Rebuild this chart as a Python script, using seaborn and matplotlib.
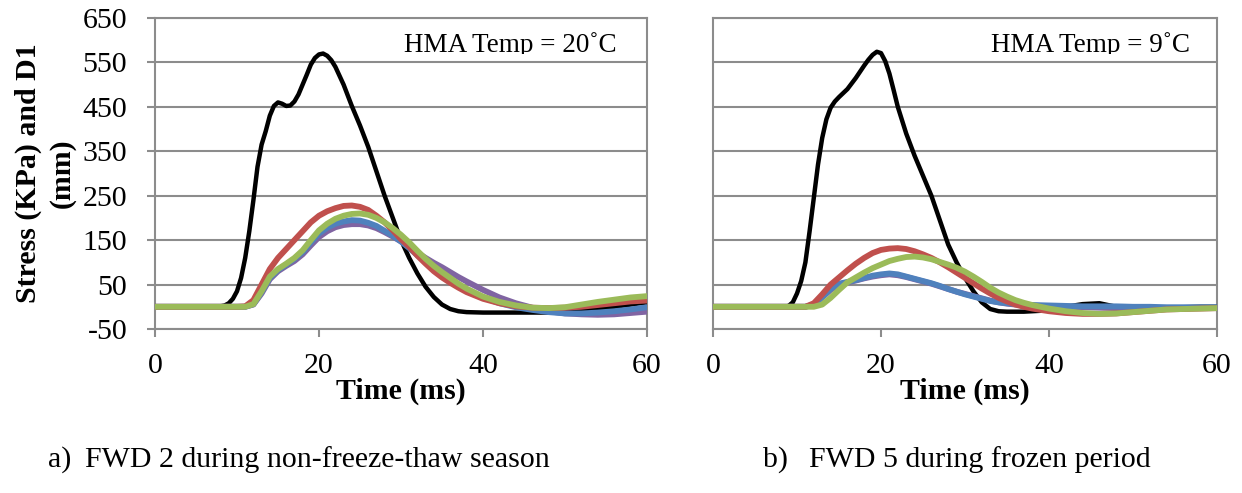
import numpy as np
import pandas as pd
import matplotlib
matplotlib.use("Agg")
import matplotlib.pyplot as plt
import seaborn as sns
from matplotlib.transforms import Bbox, TransformedBbox

# Time axis shared by the deflection traces (ms)
time_ms = [0, 2, 4, 6, 8, 9, 10, 11, 12, 13, 14, 15, 16, 17, 18, 19, 20, 21,
           22, 23, 24, 25, 26, 27, 28, 29, 30, 31, 32, 33, 34, 35, 36, 37, 38,
           40, 42, 44, 46, 48, 50, 52, 54, 56, 58, 60]

# Panel a) FWD 2, non-freeze-thaw season, HMA 20 C
a_stress_t = [0, 2, 4, 6, 7, 8, 8.5, 9, 9.5, 10, 10.5, 11, 11.5, 12, 12.5, 13,
              13.5, 14, 14.5, 15, 15.5, 16, 16.5, 17, 17.5, 18, 18.5, 19, 19.5,
              20, 20.5, 21, 21.5, 22, 23, 24, 25, 26, 27, 28, 29, 30, 31, 32,
              33, 34, 35, 36, 37, 38, 40, 42, 44, 46, 48, 50, 52, 54, 56, 58, 60]
a_stress = [0, 0, 0, 0, 0, 1, 3, 8, 18, 35, 65, 110, 170, 240, 315, 365, 395,
            430, 452, 460, 457, 452, 453, 462, 478, 500, 522, 545, 560, 568, 570,
            565, 555, 540, 500, 452, 408, 360, 305, 250, 200, 150, 110, 75, 45,
            22, 5, -5, -10, -12, -13, -13, -13, -13, -13, -12, -10, -5, 0, 5, 10]
a_purple = [0, 0, 0, 0, 0, 0, 0, 0, 5, 30, 62, 80, 92, 103, 118, 138, 157, 170,
            179, 184, 186, 186, 183, 177, 168, 158, 147, 135, 122, 110, 99, 89,
            78, 67, 57, 38, 21, 8, -2, -10, -15, -17, -18, -17, -14, -11]
a_blue = [0, 0, 0, 0, 0, 0, 0, 0, 6, 33, 65, 83, 95, 108, 123, 145, 165, 178,
          187, 192, 195, 194, 189, 182, 171, 160, 147, 132, 116, 101, 88, 75,
          62, 50, 39, 21, 8, -1, -7, -12, -15, -15, -13, -10, -6, -1]
a_red = [0, 0, 0, 0, 0, 0, 0, 1, 15, 50, 85, 110, 130, 150, 170, 190, 205, 215,
         222, 227, 228, 225, 218, 205, 190, 172, 152, 135, 115, 97, 80, 66, 54,
         43, 33, 18, 8, 1, -2, -3, -2, 0, 4, 8, 12, 14]
a_green = [0, 0, 0, 0, 0, 0, 0, 0, 6, 35, 68, 85, 97, 110, 127, 150, 172, 187,
           198, 205, 209, 210, 207, 200, 190, 177, 162, 145, 126, 108, 92, 78,
           65, 52, 41, 23, 11, 3, -2, -3, -1, 5, 11, 16, 21, 24]

# Panel b) FWD 5, frozen period, HMA 9 C
b_stress_t = [0, 2, 4, 6, 8, 8.5, 9, 9.5, 10, 10.5, 11, 11.5, 12, 12.5, 13, 13.5,
              14, 14.5, 15, 16, 17, 18, 18.5, 19, 19.5, 20, 20.5, 21, 21.5, 22,
              23, 24, 25, 26, 27, 28, 29, 30, 31, 32, 33, 34, 35, 36, 37, 38, 40,
              42, 44, 46, 48, 50, 52, 54, 56, 58, 60]
b_stress = [0, 0, 0, 0, 0, 0, 2, 10, 30, 58, 100, 170, 245, 320, 380, 422, 448,
            462, 472, 490, 515, 543, 556, 567, 574, 571, 553, 525, 488, 450, 390,
            340, 295, 250, 195, 140, 100, 65, 35, 10, -5, -10, -11, -11, -11,
            -10, -8, 0, 6, 8, 0, -3, -3, -2, -1, 0, 0]
b_purple = [0, 0, 0, 0, 0, 0, 0, 0, 5, 21, 38, 50, 55, 59, 64, 68, 71, 73, 71,
            67, 62, 57, 52, 46, 40, 34, 29, 24, 19, 14, 10, 7, 5, 4, 3, 1, 0,
            -1, -2, -3, -3, -3, -3, -3, -3, -3]
b_blue = [0, 0, 0, 0, 0, 0, 0, 0, 5, 22, 40, 52, 56, 60, 65, 70, 73, 75, 73, 68,
          63, 58, 53, 47, 40, 34, 28, 23, 18, 13, 10, 8, 6, 5, 4, 3, 2, 1, 1,
          1, 0, 0, -1, -1, -1, -1]
b_red = [0, 0, 0, 0, 0, 0, 0, 0, 8, 28, 50, 66, 82, 97, 110, 121, 128, 131, 132,
         130, 125, 118, 110, 100, 89, 77, 65, 53, 41, 30, 20, 12, 5, 0, -4,
         -10, -14, -16, -16, -15, -12, -9, -6, -5, -4, -3]
b_green = [0, 0, 0, 0, 0, 0, 0, 0, 0, 5, 20, 38, 55, 66, 77, 87, 95, 103, 108,
           112, 113, 111, 107, 101, 95, 88, 79, 68, 56, 43, 32, 23, 15, 9, 4,
           -4, -10, -14, -16, -15, -12, -9, -6, -5, -4, -3]

y_ticks = [-50, 50, 150, 250, 350, 450, 550, 650]
x_ticks = [0, 20, 40, 60]

panels = [
    {"stress": (a_stress_t, a_stress), "traces": [a_purple, a_blue, a_red, a_green],
     "note": "HMA Temp = 20˚C", "caption": ("a)", "FWD 2 during non-freeze-thaw season")},
    {"stress": (b_stress_t, b_stress), "traces": [b_purple, b_blue, b_red, b_green],
     "note": "HMA Temp = 9˚C", "caption": ("b)", "FWD 5 during frozen period")},
]
trace_colors = ["#8064A2", "#4F81BD", "#C0504D", "#9BBB59"]

sns.set_style("white")
plt.rcParams["font.family"] = ["Liberation Serif", "DejaVu Serif"]
plt.rcParams["axes.unicode_minus"] = False
plt.rcParams["text.color"] = "black"
plt.rcParams["axes.labelcolor"] = "black"
plt.rcParams["xtick.color"] = "black"
plt.rcParams["ytick.color"] = "black"

W, H = 1242, 493
fig = plt.figure(figsize=(W / 100, H / 100), dpi=100)

grid_color = "#8c8c8c"
axes_px = [(155, 647), (713, 1217)]
top_px, bot_px = 18, 329

note_right = [0.939, 0.946]
caption_x = [(48, 85), (763, 809)]

for i, (panel, (x0, x1)) in enumerate(zip(panels, axes_px)):
    ax = fig.add_axes([x0 / W, 1 - bot_px / H, (x1 - x0) / W, (bot_px - top_px) / H])
    st, sv = panel["stress"]
    sns.lineplot(x=st, y=sv, ax=ax, color="black", linewidth=3.2,
                 solid_capstyle="round", solid_joinstyle="round", zorder=3)
    for vals, col in zip(panel["traces"], trace_colors):
        df = pd.DataFrame({"t": time_ms, "v": vals})
        sns.lineplot(data=df, x="t", y="v", ax=ax, color=col, linewidth=4.2,
                     solid_capstyle="round", solid_joinstyle="round", zorder=3)
    ax.set_xlim(0, 60)
    ax.set_ylim(-50, 650)
    ax.set_xticks(x_ticks)
    ax.set_yticks(y_ticks)
    ax.yaxis.grid(True, color=grid_color, linewidth=1.5)
    ax.xaxis.grid(False)
    ax.set_axisbelow(True)
    for sp in ax.spines.values():
        sp.set_color(grid_color)
        sp.set_linewidth(1.5)
    ax.tick_params(axis="x", direction="out", length=6, width=1.5, color=grid_color,
                   labelcolor="black", labelsize=21.5, pad=11, bottom=True)
    if i == 0:
        ax.tick_params(axis="y", direction="out", length=6, width=1.5, color=grid_color,
                       labelcolor="black", labelsize=21.5, pad=14, left=True)
        ax.set_ylabel("Stress (KPa) and D1\n(mm)", fontsize=21.5, fontweight="bold",
                      linespacing=1.3, labelpad=5)
    else:
        ax.tick_params(axis="y", left=False, labelleft=False)
        ax.set_ylabel("")
    ax.set_xlabel("Time (ms)", fontsize=21.5, fontweight="bold", labelpad=-1)

    note = ax.text(note_right[i], 0.891, panel["note"], transform=ax.transAxes,
                   ha="right", va="baseline", fontsize=19.5, zorder=5)
    note.set_clip_box(TransformedBbox(Bbox([[0, 0.884], [1, 1]]), ax.transAxes))
    note.set_clip_on(True)

    lbl, cap = panel["caption"]
    cx0, cx1 = caption_x[i]
    fig.text(cx0 / W, 1 - 467 / H, lbl, ha="left", va="baseline", fontsize=21.5)
    fig.text(cx1 / W, 1 - 467 / H, cap, ha="left", va="baseline", fontsize=21.5)

fig.savefig("out.png", dpi=100)
